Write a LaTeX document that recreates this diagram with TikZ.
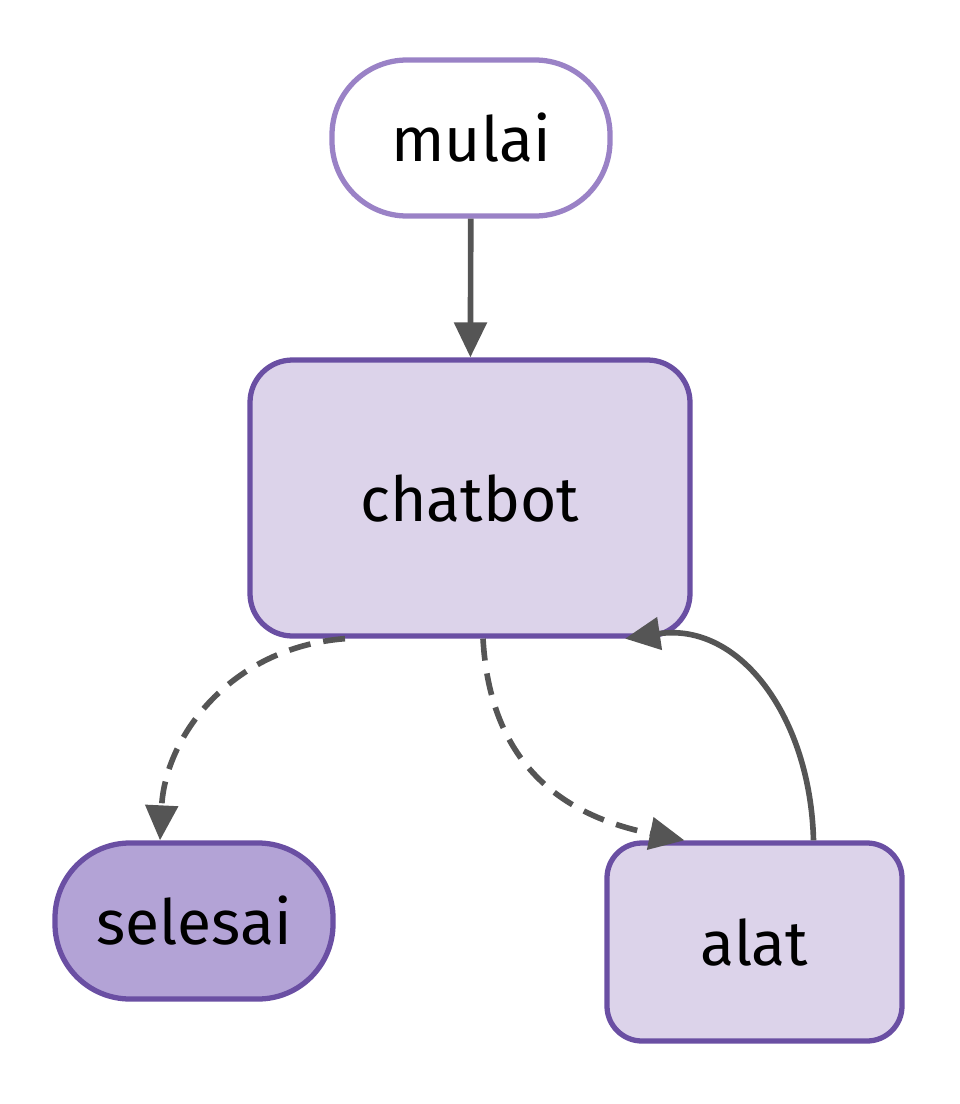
\documentclass[tikz,border=0pt]{standalone}
\usepackage{fontspec}
\setmainfont{Fira Sans}
\usetikzlibrary{arrows.meta}
\definecolor{lightedge}{HTML}{9A82C6}
\definecolor{darkedge}{HTML}{6A4FA3}
\definecolor{boxfill}{HTML}{DCD3EA}
\definecolor{endfill}{HTML}{B3A3D6}
\definecolor{wire}{HTML}{555555}

\begin{document}
\begin{tikzpicture}[line cap=round,line join=round,x=1cm,y=1cm,
    >={Triangle[length=0.7cm,width=0.64cm]},
    txt/.style={font=\fontsize{35.5}{40}\selectfont, inner sep=0pt},
    startbox/.style={txt, draw=lightedge, fill=white, line width=3pt, rounded corners=1.5cm, minimum width=5.56cm, minimum height=3.12cm},
    endbox/.style={txt, draw=darkedge, fill=endfill, line width=3pt, rounded corners=1.5cm, minimum width=5.56cm, minimum height=3.12cm},
    mainbox/.style={txt, draw=darkedge, fill=boxfill, line width=3pt, rounded corners=0.85cm},
    flow/.style={->, draw=wire, line width=3.2pt, line cap=butt},
    maybe/.style={flow, dash pattern=on 0.44cm off 0.26cm}]
    \useasboundingbox (0,0) rectangle (19.2,-22.08);

    \node[startbox] (mulai) at (9.42,-2.76) {mulai};
    \node[mainbox, minimum width=8.8cm, minimum height=5.52cm] (chatbot) at (9.4,-9.96) {chatbot};
    \node[endbox] (selesai) at (3.88,-18.42) {selesai};
    \node[mainbox, rounded corners=0.7cm, minimum width=5.9cm, minimum height=3.96cm] (alat) at (15.09,-18.84) {alat};

    \draw[flow] (mulai) -- (chatbot);
    \draw[maybe] ([xshift=-2.5cm]chatbot.south) .. controls +(-2.3,-0.18) and +(0.1,2.06) .. ([xshift=-0.68cm]selesai.north);
    \draw[maybe] ([xshift=0.26cm]chatbot.south) .. controls +(0.14,-2.48) and +(-2.48,0.5) .. ([xshift=-1.4cm]alat.north);
    \draw[flow] ([xshift=1.18cm]alat.north) .. controls +(-0.06,2.46) and +(2.3,0.34) .. ([xshift=3.1cm]chatbot.south);
\end{tikzpicture}
\end{document}
